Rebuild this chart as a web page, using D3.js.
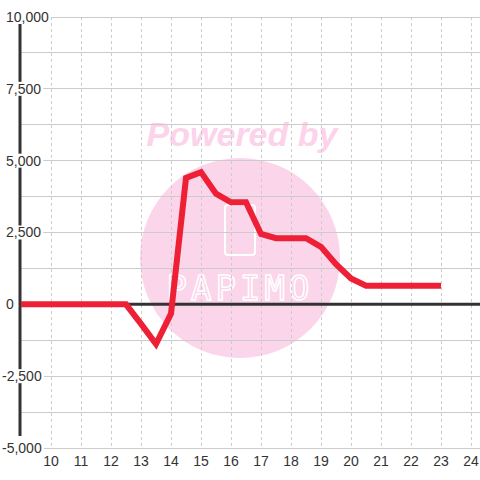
<meta charset="utf-8">
<script src='https://cdn.jsdelivr.net/npm/d3@7'></script>
<style>body{margin:0;background:#fff;}</style>
<svg id='chart'></svg>
<script>
var W=480,H=480;
var xs=[9,9.5,10,10.5,11,11.5,12,12.5,13,13.5,14,14.5,15,15.5,16,16.5,17,17.5,18,18.5,19,19.5,20,20.5,21,21.5,22,22.5,23];
var vals=[0,0,0,0,0,0,0,0,-680,-1380,-320,4400,4600,3850,3550,3550,2450,2300,2300,2300,2000,1400,900,650,650,650,650,650,650];
var xTicks=[10,11,12,13,14,15,16,17,18,19,20,21,22,23,24];
var yTicks=[10000,7500,5000,2500,0,-2500,-5000];
var yGrid=[10000,8750,7500,6250,5000,3750,2500,1250,0,-1250,-2500,-3750,-5000];

var svg=d3.select('#chart').attr('width',W).attr('height',H)
          .style('font-family','Liberation Sans, Arial, sans-serif');
var x=d3.scaleLinear().domain([9,24.3]).range([21,480]),
    y=d3.scaleLinear().domain([-5000,10000]).range([448,17]);

// watermark
var wm=svg.append('g');
wm.append('circle').attr('cx',240).attr('cy',258).attr('r',100).attr('fill','#fbd5ea');
wm.append('text').attr('x',242).attr('y',146).attr('text-anchor','middle')
  .attr('font-size',34).attr('font-weight','bold').attr('font-style','italic')
  .attr('fill','#fcd3ea').text('Powered by');
wm.append('rect').attr('x',225).attr('y',205).attr('width',30).attr('height',50).attr('rx',3)
  .attr('fill','none').attr('stroke','#fff').attr('stroke-width',2);
wm.append('text').attr('x',240).attr('y',300).attr('text-anchor','middle')
  .attr('font-size',34).attr('font-family','DejaVu Sans Mono, monospace').attr('letter-spacing',4)
  .attr('fill','none').attr('stroke','#fff').attr('stroke-width',1.5).text('PAPIMO');

// grid
svg.append('g').selectAll('line').data(yGrid).join('line')
   .attr('x1',21).attr('x2',W).attr('y1',d=>y(d)).attr('y2',d=>y(d))
   .attr('stroke','#ccc').attr('stroke-width',1).attr('shape-rendering','crispEdges');
svg.append('g').selectAll('line').data(xTicks).join('line')
   .attr('x1',d=>x(d)).attr('x2',d=>x(d)).attr('y1',y(10000)).attr('y2',y(-5000))
   .attr('stroke','#ccc').attr('stroke-dasharray','3,3').attr('shape-rendering','crispEdges');

// axes
svg.append('line').attr('x1',20).attr('x2',20).attr('y1',y(10000)+7).attr('y2',y(-5000)-12)
   .attr('stroke','#333').attr('stroke-width',3);
svg.append('line').attr('x1',20).attr('x2',W).attr('y1',y(0)).attr('y2',y(0))
   .attr('stroke','#333').attr('stroke-width',3);

// y labels with white boxes
var fmt=v=>d3.format(',')(v).replace('\u2212','-');
var yl=svg.append('g').selectAll('g').data(yTicks).join('g')
   .attr('transform',d=>'translate('+(d<0?2:6)+','+y(d)+')');
yl.append('text').attr('dy','0.35em').attr('font-size',14).attr('fill','#333').text(d=>fmt(d));
yl.each(function(){
  var g=d3.select(this),b=g.select('text').node().getBBox();
  g.insert('rect','text').attr('x',b.x-1).attr('y',-7).attr('width',b.width+3).attr('height',14).attr('fill','#fff');
});

// x labels
svg.append('g').selectAll('text').data(xTicks).join('text')
   .attr('x',d=>x(d)).attr('y',466).attr('text-anchor','middle')
   .attr('font-size',14).attr('fill','#333').text(d=>d);

// series
var line=d3.line().x(d=>x(d[0])).y(d=>y(d[1]));
svg.append('path').datum(d3.zip(xs,vals)).attr('d',line)
   .attr('fill','none').attr('stroke','#ee2036').attr('stroke-width',6)
   .attr('stroke-linejoin','miter');
</script>
